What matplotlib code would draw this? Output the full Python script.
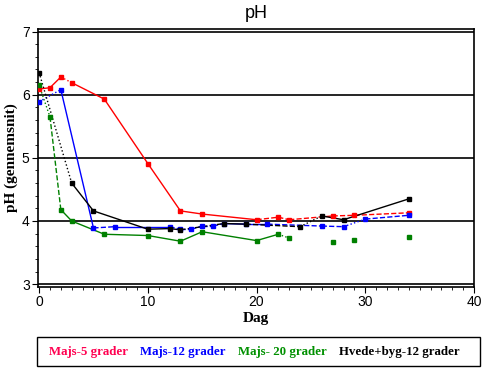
import matplotlib
matplotlib.use("Agg")
import matplotlib.pyplot as plt
from matplotlib.patches import Rectangle
from matplotlib.ticker import MultipleLocator

# data
red_days = [0, 1, 2, 3, 6, 10, 13, 15, 20, 22, 23, 27, 29, 34]
red_ph = [6.09, 6.11, 6.28, 6.19, 5.93, 4.91, 4.16, 4.11, 4.02, 4.06, 4.02, 4.08, 4.09, 4.13]

blue_days = [0, 2, 5, 7, 12, 13, 14, 15, 16, 17, 19, 21, 26, 28, 30, 34]
blue_ph = [5.89, 6.08, 3.89, 3.91, 3.91, 3.87, 3.87, 3.92, 3.92, 3.96, 3.95, 3.95, 3.92, 3.91, 4.03, 4.09]

green_days = [0, 1, 2, 3, 6, 10, 13, 15, 20, 22, 23, 27, 29, 34]
green_ph = [6.15, 5.65, 4.18, 4.00, 3.79, 3.77, 3.68, 3.83, 3.69, 3.79, 3.73, 3.66, 3.70, 3.74]

black_days = [0, 3, 5, 10, 12, 13, 17, 19, 24, 26, 28, 34]
black_ph = [6.35, 4.60, 4.16, 3.87, 3.88, 3.86, 3.96, 3.95, 3.91, 4.08, 4.02, 4.35]

labels = ["Majs-5 grader", "Majs-12 grader", "Majs- 20 grader", "Hvede+byg-12 grader"]

# segment styles between consecutive points (None = no line)
red_seg = ['-', '-', ':', '-', '-', '-', '-', '-', '--', '--', '--', '--', '--']
blue_seg = [':', '-', '--', '-', '--', '--', '--', '--', '--', '-', '-', '--', '--', ':', '--']
green_seg = [':', '--', '-', '-', '-', '-', '-', '-', '-', ':', None, None, None]
black_seg = [':', '-', '-', '-', '-', '--', '-', '--', ':', '-', '-']

series = [
    (red_days, red_ph, red_seg, '#ff0000'),
    (blue_days, blue_ph, blue_seg, '#0000ff'),
    (green_days, green_ph, green_seg, '#008000'),
    (black_days, black_ph, black_seg, '#000000'),
]
label_colors = ['#ff0050', '#0000ff', '#009000', '#000000']

fig = plt.figure(figsize=(4.85, 3.69), dpi=100)
ax = fig.add_axes([38 / 485, 1 - 287 / 369, 436 / 485, 258 / 369])

for yv in [3, 4, 5, 6, 7]:
    ax.axhline(yv, color='black', lw=1.2, zorder=1)

for days, ph, seg, col in series:
    for i, ls in enumerate(seg):
        if ls is None:
            continue
        ax.plot(days[i:i + 2], ph[i:i + 2], color=col, ls=ls, lw=1.0, zorder=2)
    ax.plot(days, ph, ls='none', marker='s', ms=3.5, color=col, zorder=3)

ax.set_xlim(-0.1, 40)
ax.set_ylim(2.955, 7.04)
ax.xaxis.set_major_locator(MultipleLocator(10))
ax.xaxis.set_minor_locator(MultipleLocator(1))
ax.yaxis.set_major_locator(MultipleLocator(1))
ax.yaxis.set_minor_locator(MultipleLocator(0.2))
ax.tick_params(which='both', direction='out', labelsize=10, pad=2)
ax.tick_params(which='major', length=4)
ax.tick_params(which='minor', length=2)
for lab in ax.get_xticklabels() + ax.get_yticklabels():
    lab.set_fontfamily('Liberation Sans')
for sp in ax.spines.values():
    sp.set_linewidth(1.2)

ax.set_xlabel('Dag', fontfamily='Liberation Serif', fontweight='bold', fontsize=11, labelpad=2)
ax.set_ylabel('pH (gennemsnit)', fontfamily='Liberation Serif', fontweight='bold', fontsize=11, labelpad=3)
fig.text(256 / 485, 1 - 13 / 369, 'pH', ha='center', va='center',
         fontfamily='Liberation Sans', fontsize=13)

# legend box
fig.patches.append(Rectangle((37 / 485, 1 - 366 / 369), 443 / 485, 29 / 369,
                             transform=fig.transFigure, fill=False, edgecolor='black', lw=1))
xs = [49, 140, 238, 339]
for x, lab, col in zip(xs, labels, label_colors):
    fig.text(x / 485, 1 - 352 / 369, lab, ha='left', va='center', color=col,
             fontfamily='Liberation Serif', fontweight='bold', fontsize=9.3)

fig.savefig('out.png', dpi=100)
